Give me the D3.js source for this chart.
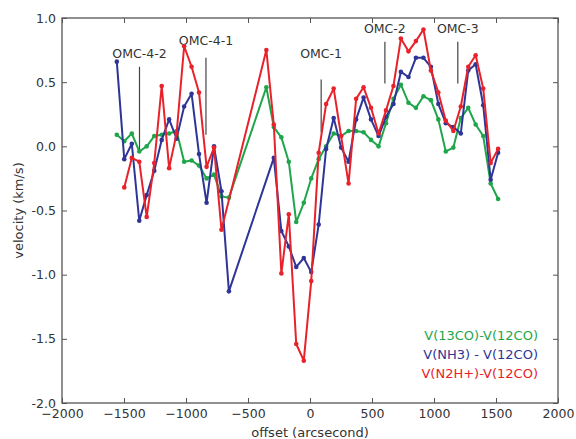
<!DOCTYPE html>
<html><head><meta charset="utf-8">
<script src="https://cdn.jsdelivr.net/npm/d3@7"></script>
<style>body{margin:0;background:#fff}svg{display:block}text{font-family:"DejaVu Sans",sans-serif;fill:#333}</style>
</head><body>
<svg id="chart" width="576" height="439"></svg>
<script>
const offsets = [-1558,-1498,-1437,-1377,-1317,-1256,-1196,-1136,-1076,-1015,-955,-895,-834,-774,-714,-654,
  -352,-292,-231,-171,-111,-50,10,70,130,191,251,311,372,432,492,553,613,673,733,794,854,915,975,1035,1095,1156,1216,1276,1336,1397,1457,1517];
const green = [0.09,0.04,0.10,-0.04,0.00,0.08,0.09,0.10,0.12,-0.12,-0.11,-0.15,-0.25,-0.22,-0.39,-0.40,
  0.46,0.15,0.07,-0.12,-0.59,-0.44,-0.25,-0.10,0.00,0.10,0.08,0.12,0.12,0.11,0.05,0.00,0.18,0.37,0.48,0.34,0.30,0.39,0.36,0.21,-0.04,-0.01,0.22,0.30,0.17,0.08,-0.29,-0.41];
const blue = [0.66,-0.10,0.02,-0.58,-0.38,-0.19,0.05,0.21,0.06,0.31,0.41,-0.06,-0.44,0.00,-0.35,-1.13,
  null,-0.09,-0.66,-0.78,-0.94,-0.87,-0.98,-0.61,-0.02,0.22,-0.01,-0.12,0.21,0.38,0.21,0.08,0.23,0.33,0.58,0.54,0.69,0.69,0.62,0.33,0.18,0.15,0.10,0.59,0.64,0.32,-0.26,-0.05];
const red = [null,-0.32,-0.09,-0.12,-0.55,-0.13,0.47,-0.17,0.10,0.78,0.62,0.42,-0.16,-0.01,-0.65,null,
  0.75,0.17,-0.99,-0.53,-1.54,-1.67,-1.05,-0.05,0.33,0.45,0.08,-0.29,0.37,0.46,0.30,0.10,0.28,0.47,0.84,0.74,0.82,0.91,0.59,0.42,0.20,0.12,0.31,0.62,0.71,0.45,-0.13,-0.02];
const seriesNames = ["V(13CO)-V(12CO)","V(NH3) - V(12CO)","V(N2H+)-V(12CO)"];
const xTicks = [-2000,-1500,-1000,-500,0,500,1000,1500,2000];
const yTicks = [1.0,0.5,0.0,-0.5,-1.0,-1.5,-2.0];
const regionNames = ["OMC-4-2","OMC-4-1","OMC-1","OMC-2","OMC-3"];
const regionOffsets = [-1375,-839,90,604,1192];
const regionLineTop = [0.62,0.69,0.52,0.815,0.815];
const regionLineBottom = [-0.04,0.09,0.11,0.49,0.49];
const regionLabelY = [0.72,0.82,0.72,0.92,0.92];

const colors = ["#1fa64a","#2e3596","#e8222b"];
const W=576,H=439, m={l:62,r:18,t:18,b:36};
const svg=d3.select("#chart");
const x=d3.scaleLinear().domain([-2000,2000]).range([m.l,W-m.r]);
const y=d3.scaleLinear().domain([-2,1]).range([H-m.b,m.t]);

// axes
const fmtY=d=>d.toFixed(1);
const ax=svg.append("g").attr("transform",`translate(0,${H-m.b})`)
  .call(d3.axisBottom(x).tickValues(xTicks).tickSizeInner(-5).tickSizeOuter(0).tickPadding(6).tickFormat(d3.format("d")));
const axTop=svg.append("g").attr("transform",`translate(0,${m.t})`)
  .call(d3.axisTop(x).tickValues(xTicks).tickSizeInner(-5).tickSizeOuter(0).tickFormat(""));
const ay=svg.append("g").attr("transform",`translate(${m.l},0)`)
  .call(d3.axisLeft(y).tickValues(yTicks).tickSizeInner(-5).tickSizeOuter(0).tickPadding(6).tickFormat(fmtY));
const ayR=svg.append("g").attr("transform",`translate(${W-m.r},0)`)
  .call(d3.axisRight(y).tickValues(yTicks).tickSizeInner(-5).tickSizeOuter(0).tickFormat(""));
[ax,axTop,ay,ayR].forEach(g=>{g.select(".domain").remove();g.selectAll("line").attr("stroke","#555");
  g.selectAll("text").attr("font-size","12.5px").attr("fill","#333").attr("font-family","DejaVu Sans");});
svg.append("rect").attr("x",m.l).attr("y",m.t).attr("width",W-m.l-m.r).attr("height",H-m.t-m.b)
  .attr("fill","none").attr("stroke","#555").attr("stroke-width",1.3);

// region markers
regionNames.forEach((n,i)=>{
  svg.append("line").attr("x1",x(regionOffsets[i])).attr("x2",x(regionOffsets[i]))
    .attr("y1",y(regionLineTop[i])).attr("y2",y(regionLineBottom[i])).attr("stroke","#444").attr("stroke-width",1.2);
  svg.append("text").attr("x",x(regionOffsets[i])).attr("y",y(regionLabelY[i])).attr("dy","0.35em")
    .attr("text-anchor","middle").attr("font-size","12.5px").attr("fill","#111").text(n);
});

// series
[green,blue,red].forEach((vals,k)=>{
  const pts=offsets.map((o,i)=>[o,vals[i]]).filter(p=>p[1]!==null);
  svg.append("path").datum(pts).attr("fill","none").attr("stroke",colors[k]).attr("stroke-width",2)
    .attr("stroke-linejoin","round")
    .attr("d",d3.line().x(p=>x(p[0])).y(p=>y(p[1])));
  svg.append("g").selectAll("circle").data(pts).join("circle")
    .attr("cx",p=>x(p[0])).attr("cy",p=>y(p[1])).attr("r",2.3).attr("fill",colors[k]);
});

// legend
seriesNames.forEach((n,k)=>{
  svg.append("text").attr("x",538).attr("y",335+k*19).attr("dy","0.35em").attr("text-anchor","end")
    .attr("font-size","13px").style("fill",colors[k]).text(n);
});

// axis titles
svg.append("text").attr("x",(m.l+W-m.r)/2).attr("y",432).attr("dy","0.35em").attr("text-anchor","middle")
  .attr("font-size","13px").text("offset (arcsecond)");
svg.append("text").attr("transform",`translate(18,${(m.t+H-m.b)/2}) rotate(-90)`).attr("dy","0.35em")
  .attr("text-anchor","middle").attr("font-size","13px").text("velocity (km/s)");
</script>
</body></html>
